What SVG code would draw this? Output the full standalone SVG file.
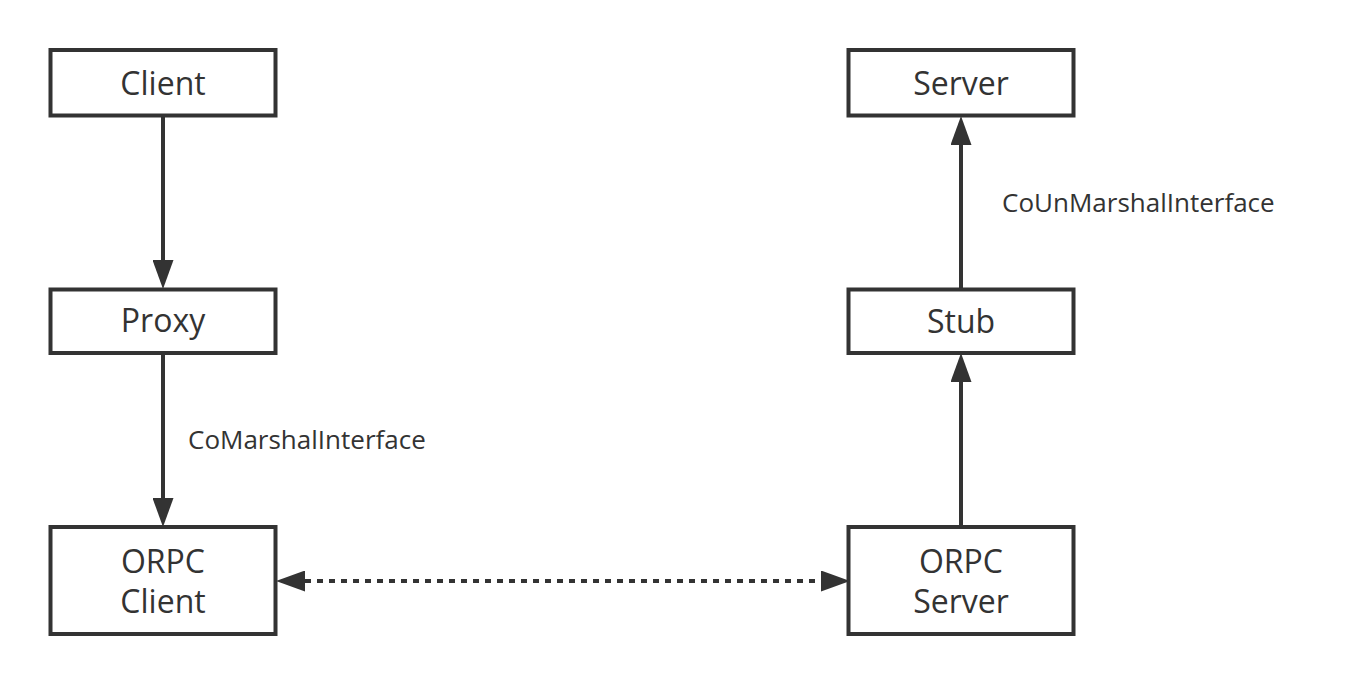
<svg xmlns="http://www.w3.org/2000/svg" width="1369" height="686" viewBox="0 0 1369 686">
  <style>
    .box { fill: #ffffff; stroke: #333333; stroke-width: 4; }
    .t { font-family: "Open Sans", "Noto Sans", sans-serif; font-size: 32px; fill: #333333; text-anchor: middle; }
    .lbl { font-family: "Open Sans", "Noto Sans", sans-serif; font-size: 26px; fill: #333333; }
    .edge { fill: none; stroke: #333333; stroke-width: 4; }
    .dot { stroke-dasharray: 6 6; }
  </style>
  <defs>
    <marker id="arr" viewBox="0 0 29 21" markerUnits="userSpaceOnUse" markerWidth="29" markerHeight="21" refX="0" refY="10.5" orient="auto-start-reverse">
      <path d="M0,0 L29,10.5 L0,21 Z" fill="#333333"/>
    </marker>
  </defs>
  <rect width="1369" height="686" fill="#ffffff"/>

  <g id="connectors">
    <line class="edge" x1="163" y1="115.5" x2="163" y2="260" marker-end="url(#arr)"/>
    <line class="edge" x1="163" y1="353" x2="163" y2="498" marker-end="url(#arr)"/>
    <line class="edge" x1="961" y1="527" x2="961" y2="382" marker-end="url(#arr)"/>
    <line class="edge" x1="961" y1="290" x2="961" y2="145" marker-end="url(#arr)"/>
    <line class="edge dot" x1="305" y1="581" x2="821" y2="581" marker-start="url(#arr)" marker-end="url(#arr)"/>
    <text class="lbl" x="188" y="449">CoMarshalInterface</text>
    <text class="lbl" x="1002" y="211.5">CoUnMarshalInterface</text>
  </g>

  <g id="client">
    <rect class="box" x="50.5" y="50" width="225" height="65.5"/>
    <text class="t" x="163" y="95">Client</text>
  </g>
  <g id="proxy">
    <rect class="box" x="50.5" y="289.5" width="225" height="63.5"/>
    <text class="t" x="163" y="332">Proxy</text>
  </g>
  <g id="orpc-client">
    <rect class="box" x="50.5" y="527" width="225" height="107"/>
    <text class="t" x="163" y="573">ORPC</text>
    <text class="t" x="163" y="612.5">Client</text>
  </g>
  <g id="server">
    <rect class="box" x="848.5" y="50" width="225" height="65.5"/>
    <text class="t" x="961" y="95">Server</text>
  </g>
  <g id="stub">
    <rect class="box" x="848.5" y="289.5" width="225" height="63.5"/>
    <text class="t" x="961" y="332.5">Stub</text>
  </g>
  <g id="orpc-server">
    <rect class="box" x="848.5" y="527" width="225" height="107"/>
    <text class="t" x="961" y="573">ORPC</text>
    <text class="t" x="961" y="612.5">Server</text>
  </g>
</svg>
